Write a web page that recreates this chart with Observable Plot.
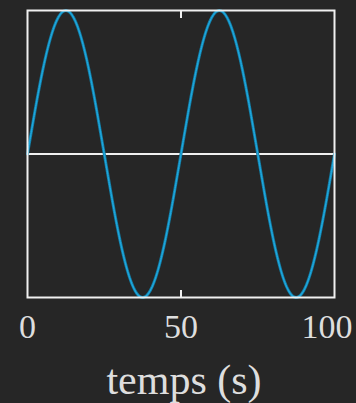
<!DOCTYPE html>
<html>
<head>
<meta charset="utf-8">
<script src="https://cdn.jsdelivr.net/npm/d3@7"></script>
<script src="https://cdn.jsdelivr.net/npm/@observablehq/plot@0.6"></script>
<style>
  html, body { margin: 0; padding: 0; background: #262626; }
</style>
</head>
<body>
<div id="chart"></div>
<script>
const temps = [0, 2.5, 5, 7.5, 10, 12.5, 15, 17.5, 20, 22.5, 25, 27.5, 30, 32.5, 35, 37.5, 40, 42.5, 45, 47.5, 50,
  52.5, 55, 57.5, 60, 62.5, 65, 67.5, 70, 72.5, 75, 77.5, 80, 82.5, 85, 87.5, 90, 92.5, 95, 97.5, 100];
const signal = [0, 0.309, 0.588, 0.809, 0.951, 1, 0.951, 0.809, 0.588, 0.309, 0, -0.309, -0.588, -0.809, -0.951, -1, -0.951, -0.809, -0.588, -0.309, 0,
  0.309, 0.588, 0.809, 0.951, 1, 0.951, 0.809, 0.588, 0.309, 0, -0.309, -0.588, -0.809, -0.951, -1, -0.951, -0.809, -0.588, -0.309, 0];
const xTicksInner = [0, 50];
const xTickLast = [100];
const xLabel = "temps (s)";

const data = temps.map((t, i) => ({t, v: signal[i]}));

const chart = Plot.plot({
  width: 356,
  height: 403,
  marginLeft: 27,
  marginRight: 22,
  marginTop: 10,
  marginBottom: 106,
  style: {background: "#262626", color: "#dedede", fontFamily: "'Liberation Serif', serif"},
  x: {domain: [0, 100]},
  y: {domain: [-1, 1], axis: null},
  marks: [
    Plot.ruleY([0], {stroke: "#f0f0f0", strokeWidth: 2}),
    Plot.line(data, {x: "t", y: "v", curve: "natural", stroke: "#13789e", strokeWidth: 3}),
    Plot.line(data, {x: "t", y: "v", curve: "natural", stroke: "#1ea6dc", strokeWidth: 1.6, strokeDasharray: "1,1.2"}),
    Plot.frame({stroke: "#f0f0f0", strokeWidth: 2}),
    Plot.axisX(xTicksInner, {anchor: "bottom", tickSize: 0, tickPadding: 16, fontSize: 34, fill: "#dedede", label: null}),
    Plot.axisX(xTickLast, {anchor: "bottom", tickSize: 0, tickPadding: 16, fontSize: 34, fill: "#dedede", label: null, textAnchor: "end", dx: 18}),
    Plot.axisX([50], {anchor: "bottom", tickSize: -7, text: null, stroke: "#f0f0f0", strokeWidth: 2, label: null}),
    Plot.axisX([50], {anchor: "top", tickSize: -7, text: null, stroke: "#f0f0f0", strokeWidth: 2, label: null}),
    Plot.text([xLabel], {frameAnchor: "bottom", dy: 96, dx: 3, lineAnchor: "bottom", fontSize: 42, fill: "#dedede"})
  ]
});
document.getElementById("chart").appendChild(chart);
</script>
</body>
</html>
